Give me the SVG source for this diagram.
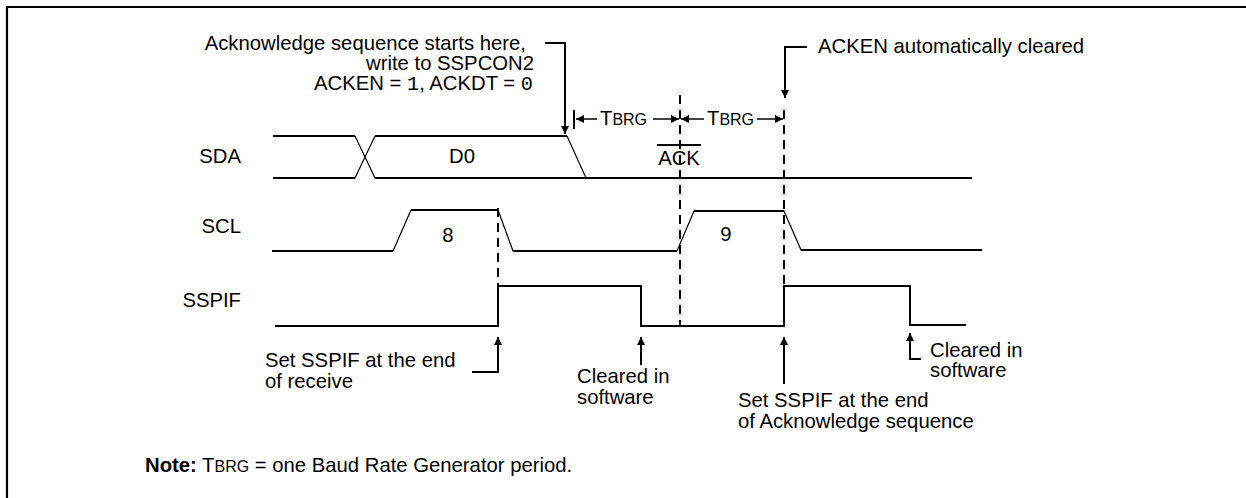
<svg xmlns="http://www.w3.org/2000/svg" width="1246" height="498" viewBox="0 0 1246 498">
<style>
text{font-family:"Liberation Sans",Arial,sans-serif;font-size:20.3px;fill:#000}
.mono{font-family:"Liberation Mono","Courier New",monospace}
.sc{font-size:16px}
.b{font-weight:bold}
.flat{fill:none;stroke:#000;stroke-width:2}
.slope{fill:none;stroke:#000;stroke-width:1.2}
.dash{fill:none;stroke:#000;stroke-width:2;stroke-dasharray:9 6}
.ptr{fill:none;stroke:#000;stroke-width:2;marker-end:url(#ah)}
.dim{fill:none;stroke:#000;stroke-width:1.5;marker-end:url(#ah)}
</style>
<defs>
<marker id="ah" markerUnits="userSpaceOnUse" markerWidth="9" markerHeight="8" refX="8" refY="4" orient="auto">
<path d="M0,0 L8,4 L0,8 z" fill="#000"/>
</marker>
</defs>
<rect width="1246" height="498" fill="#fff"/>
<g id="frame"><path d="M7,498 L7,7 L1246,7" fill="none" stroke="#000" stroke-width="2.2"/></g>

<g id="sda">
<text x="241" y="163" text-anchor="end">SDA</text>
<path class="flat" d="M273,136 L355,136"/>
<path class="flat" d="M273,178 L355,178"/>
<path class="slope" d="M355,136 L375,178 M355,178 L375,136"/>
<path class="flat" d="M375,136 L567,136"/>
<path class="slope" d="M567,136 L586,178"/>
<path class="flat" d="M375,178 L972,178"/>
<text x="462" y="163" text-anchor="middle">D0</text>
<text x="679" y="165" text-anchor="middle">ACK</text>
<path d="M657,145 L701,145" stroke="#000" stroke-width="2"/>
</g>

<g id="scl">
<text x="241" y="233" text-anchor="end">SCL</text>
<path class="flat" d="M272,251 L393,251"/>
<path class="slope" d="M393,251 L411,210"/>
<path class="flat" d="M411,210 L498,210"/>
<path class="slope" d="M498,210 L513,251"/>
<path class="flat" d="M513,251 L677,251"/>
<path class="slope" d="M677,251 L694,211"/>
<path class="flat" d="M694,211 L784,211"/>
<path class="slope" d="M784,211 L801,250"/>
<path class="flat" d="M801,250 L982,250"/>
<text x="448" y="242" text-anchor="middle">8</text>
<text x="726" y="241" text-anchor="middle">9</text>
</g>

<g id="sspif">
<text x="241" y="307" text-anchor="end">SSPIF</text>
<path class="flat" d="M275,326 L498,326 L498,286 L641,286 L641,326 L784,326 L784,286 L910,286 L910,325 L966,325"/>
</g>

<g id="note-ack-start">
<text x="526" y="49.5" text-anchor="end">Acknowledge sequence starts here,</text>
<text x="534" y="69.5" text-anchor="end">write to SSPCON2</text>
<text x="533" y="89.5" text-anchor="end">ACKEN = <tspan class="mono">1</tspan>, ACKDT = <tspan class="mono">0</tspan></text>
</g>
<g id="note-acken-cleared">
<text x="818" y="53">ACKEN automatically cleared</text>
</g>
<g id="tbrg-dims">
<text x="600" y="125">T<tspan class="sc">BRG</tspan></text>
<text x="707" y="125">T<tspan class="sc">BRG</tspan></text>
</g>
<g id="note-set-receive">
<text x="265" y="367">Set SSPIF at the end</text>
<text x="265" y="388">of receive</text>
</g>
<g id="note-cleared-1">
<text x="577" y="383">Cleared in</text>
<text x="577" y="403.5">software</text>
</g>
<g id="note-set-ack">
<text x="738" y="407">Set SSPIF at the end</text>
<text x="738" y="427.5">of Acknowledge sequence</text>
</g>
<g id="note-cleared-2">
<text x="930" y="357">Cleared in</text>
<text x="930" y="377">software</text>
</g>
<g id="note-footer">
<text x="145" y="472"><tspan class="b">Note:</tspan> T<tspan class="sc">BRG</tspan> = one Baud Rate Generator period.</text>
</g>

<g id="connectors">
<path class="dash" d="M498,208 L498,326"/>
<path class="dash" d="M680,95 L680,326"/>
<path class="dash" d="M784,110 L784,286"/>
<path d="M574,110 L574,129" stroke="#000" stroke-width="2"/>
<path class="dim" d="M597,119 L576,119"/>
<path class="dim" d="M653,119 L679,119"/>
<path class="dim" d="M704,119 L681,119"/>
<path class="dim" d="M757,119 L783,119"/>
<path class="ptr" d="M545,43 L565,43 L565,134"/>
<path class="ptr" d="M807,47 L785,47 L785,98"/>
<path class="ptr" d="M472,372 L498,372 L498,337"/>
<path class="ptr" d="M641,365 L641,337"/>
<path class="ptr" d="M784,384 L784,337"/>
<path class="ptr" d="M921,359 L910,359 L910,333"/>
</g>
</svg>
